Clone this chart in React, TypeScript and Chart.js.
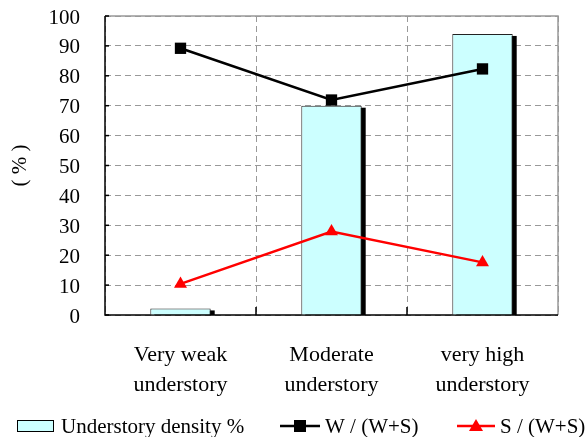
import React, { useEffect, useRef } from "react";
import { Chart, registerables } from "chart.js";

Chart.register(...registerables);

const categories: string[][] = [
  ["Very weak", "understory"],
  ["Moderate", "understory"],
  ["very high", "understory"],
];
const densityValues = [2.2, 70, 94];
const wRatioValues = [89.2, 71.9, 82.3];
const sRatioValues = [10.4, 27.9, 17.6];
const seriesNames = ["Understory density %", "W / (W+S)", "S / (W+S)"];
const yTitle = "( % )";

const FONT = "'Liberation Serif', 'Times New Roman', serif";

const shadowPlugin = {
  id: "barShadow",
  beforeDatasetDraw(chart: any, args: any) {
    if (args.index !== 0) return;
    const { ctx, chartArea } = chart;
    const meta = chart.getDatasetMeta(0);
    ctx.save();
    ctx.beginPath();
    ctx.rect(chartArea.left, chartArea.top, chartArea.right - chartArea.left, chartArea.bottom - chartArea.top);
    ctx.clip();
    ctx.fillStyle = "#000";
    meta.data.forEach((bar: any) => {
      const left = bar.x - bar.width / 2;
      const top = Math.min(bar.y, bar.base);
      const h = Math.abs(bar.base - bar.y);
      ctx.fillRect(left + 4, top + 2, bar.width, h);
    });
    ctx.restore();
  },
};

const framePlugin = {
  id: "frame",
  beforeDatasetsDraw(chart: any) {
    const { ctx, chartArea } = chart;
    const { left, right, top, bottom } = chartArea;
    ctx.save();
    ctx.lineWidth = 1.5;
    ctx.strokeStyle = "#999";
    ctx.beginPath();
    ctx.moveTo(left, top);
    ctx.lineTo(right, top);
    ctx.lineTo(right, bottom);
    ctx.stroke();
    ctx.strokeStyle = "#000";
    ctx.beginPath();
    ctx.moveTo(left, top);
    ctx.lineTo(left, bottom);
    ctx.lineTo(right, bottom);
    ctx.stroke();
    const ys = chart.scales.y;
    ys.ticks.forEach((t: any) => {
      const py = ys.getPixelForValue(t.value);
      ctx.beginPath();
      ctx.moveTo(left, py);
      ctx.lineTo(left + 4, py);
      ctx.stroke();
    });
    const xs = chart.scales.x;
    for (let i = 1; i < categories.length; i++) {
      const px = (xs.getPixelForValue(i - 1) + xs.getPixelForValue(i)) / 2;
      ctx.beginPath();
      ctx.moveTo(px, bottom);
      ctx.lineTo(px, bottom - 8);
      ctx.stroke();
    }
    ctx.restore();
  },
};

const legendPlugin = {
  id: "customLegend",
  afterDraw(chart: any) {
    const { ctx } = chart;
    const y = 426;
    ctx.save();
    ctx.font = `21px ${FONT}`;
    ctx.textBaseline = "middle";
    ctx.fillStyle = "#CCFFFF";
    ctx.fillRect(17, 420, 37, 12);
    ctx.strokeStyle = "#000";
    ctx.lineWidth = 1;
    ctx.strokeRect(17.5, 420.5, 36, 11);
    ctx.fillStyle = "#000";
    ctx.fillText(seriesNames[0], 61, y + 1);
    ctx.strokeStyle = "#000";
    ctx.lineWidth = 2.5;
    ctx.beginPath();
    ctx.moveTo(280, y);
    ctx.lineTo(320, y);
    ctx.stroke();
    ctx.fillRect(300 - 6, y - 6, 12, 12);
    ctx.fillText(seriesNames[1], 325, y + 1);
    ctx.strokeStyle = "#FF0000";
    ctx.fillStyle = "#FF0000";
    ctx.beginPath();
    ctx.moveTo(457, y);
    ctx.lineTo(495, y);
    ctx.stroke();
    ctx.beginPath();
    ctx.moveTo(476, y - 7);
    ctx.lineTo(483, y + 5);
    ctx.lineTo(469, y + 5);
    ctx.closePath();
    ctx.fill();
    ctx.fillStyle = "#000";
    ctx.fillText(seriesNames[2], 500, y + 1);
    ctx.restore();
  },
};

export default function App() {
  const ref = useRef<HTMLCanvasElement | null>(null);
  useEffect(() => {
    if (!ref.current) return;
    const chart = new Chart(ref.current, {
      type: "bar",
      data: {
        labels: categories,
        datasets: [
          {
            type: "bar",
            label: seriesNames[0],
            data: densityValues,
            backgroundColor: "#CCFFFF",
            borderColor: "#222",
            borderWidth: 1,
            barPercentage: 0.4,
            categoryPercentage: 1,
            order: 2,
          } as any,
          {
            type: "line",
            label: seriesNames[1],
            data: wRatioValues,
            borderColor: "#000",
            backgroundColor: "#000",
            borderWidth: 2.5,
            pointStyle: "rect",
            pointRadius: 8,
            pointBorderWidth: 0,
            tension: 0,
            order: 1,
          } as any,
          {
            type: "line",
            label: seriesNames[2],
            data: sRatioValues,
            borderColor: "#FF0000",
            backgroundColor: "#FF0000",
            borderWidth: 2.5,
            pointStyle: "triangle",
            pointRadius: 7.5,
            pointBorderWidth: 0,
            tension: 0,
            order: 0,
          } as any,
        ],
      },
      options: {
        responsive: false,
        animation: false,
        layout: { padding: { top: 16, right: 28, bottom: 28, left: 0 } },
        plugins: {
          legend: { display: false },
          tooltip: { enabled: false },
        },
        scales: {
          x: {
            offset: true,
            grid: {
              offset: true,
              color: "#999",
              lineWidth: 1,
              drawTicks: false,
            },
            border: { display: false, dash: [6, 4] },
            ticks: {
              color: "#000",
              font: { family: FONT, size: 22, lineHeight: 30 / 22 },
              padding: 25,
              maxRotation: 0,
            },
            afterFit: (s: any) => {
              s.height = 94;
              s.paddingLeft = 0;
              s.paddingRight = 0;
            },
          },
          y: {
            min: 0,
            max: 100,
            grid: { color: "#999", lineWidth: 1, drawTicks: false },
            border: { display: false, dash: [6, 4] },
            ticks: {
              stepSize: 10,
              autoSkip: false,
              color: "#000",
              font: { family: FONT, size: 21 },
              padding: 25,
              labelOffset: 2,
            },
            title: {
              display: true,
              text: yTitle,
              color: "#000",
              font: { family: FONT, size: 21 },
              padding: { top: 8, bottom: 0 },
            },
            afterFit: (s: any) => {
              s.width = 105;
              s.paddingTop = 0;
              s.paddingBottom = 0;
            },
          },
        },
      },
      plugins: [shadowPlugin, framePlugin, legendPlugin],
    });
    return () => chart.destroy();
  }, []);
  return (
    <div style={{ position: "fixed", left: 0, top: 0, width: 586, height: 437, background: "#fff" }}>
      <canvas ref={ref} width={586} height={437} style={{ width: 586, height: 437, display: "block" }} />
    </div>
  );
}
